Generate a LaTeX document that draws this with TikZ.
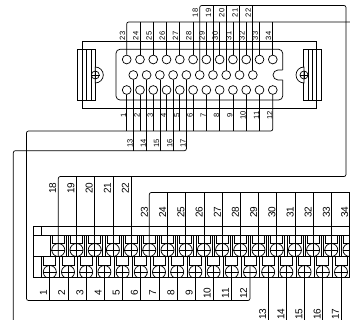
\documentclass[tikz,border=0pt]{standalone}
\usepackage{fontspec}
\setmainfont{Liberation Sans}
\usetikzlibrary{calc}
\tikzset{
  ln/.style={line width=0.7pt,line cap=butt},
  wire/.style={line width=0.7pt},
  bus/.style={line width=0.7pt,rounded corners=2pt},
  pin/.style={circle,draw,line width=0.7pt,minimum size=8.8pt,inner sep=0pt},
  screw/.style={circle,draw,line width=0.7pt,minimum size=13pt,inner sep=0pt},
  clampscrew/.style={circle,draw,line width=0.7pt,minimum size=8pt,inner sep=0pt},
  smalllab/.style={rotate=90,font=\fontsize{7.6}{8}\selectfont,inner sep=0pt},
  biglab/.style={rotate=90,font=\fontsize{10}{11}\selectfont,inner sep=0pt},
}
\begin{document}
\begin{tikzpicture}[x=1pt,y=-1pt]
\clip (0,0) rectangle (350,320);
\fill[white] (0,0) rectangle (350,320);
% flange
\draw[ln] (82.3,49.3) -- (82.3,41.3) -- (316.7,41.3) -- (316.7,49.3);
\draw[ln] (82.3,100) -- (82.3,108.3) -- (316.7,108.3) -- (316.7,100);
% left clamp
\draw[ln] (77.3,49.3) rectangle (95.3,100);
\foreach \x in {82.3,86.7,91} \draw[ln] (\x,49.3) -- (\x,100);
\draw[ln,fill=white] (95.3,67) arc[start angle=-90,end angle=90,radius=8] -- cycle;
\node[clampscrew] (scl) at (95.3,75) {};
\draw[ln] (scl.west) -- (scl.east) (scl.north) -- (scl.south);
% right clamp
\draw[ln] (303.3,49.3) rectangle (321.7,100);
\foreach \x in {308.3,312.7,316.7} \draw[ln] (\x,49.3) -- (\x,100);
\draw[ln,fill=white] (304,67) arc[start angle=270,end angle=90,radius=8] -- cycle;
\node[clampscrew] (scr) at (304,75) {};
\draw[ln] (scr.west) -- (scr.east) (scr.north) -- (scr.south);
% connector body
\draw[ln,rounded corners=4pt] (282.7,70) -- (282.7,49.3) -- (116,49.3) -- (116,100) -- (282.7,100) -- (282.7,80);
\draw[ln] (282.7,70) -- (278,70) arc[start angle=270,end angle=90,radius=5] -- (282.7,80);
% pins
\foreach \n [count=\i from 0] in {23,...,34} {
  \node[pin] (p\n) at ({126.7+13.28*\i},59.5) {};
  \node[smalllab] (lp\n) at ({122.4+13.28*\i},36) {\n};
}
\foreach \n [count=\i from 0] in {1,...,12} {
  \node[pin] (p\n) at ({126.7+13.28*\i},90) {};
  \node[smalllab] (lp\n) at ({123.6+13.28*\i},115.7) {\n};
}
\foreach \n [count=\i from 0] in {13,...,22} {
  \node[pin] (p\n) at ({133.3+13.28*\i},75) {};
}
\foreach \n [count=\i from 0] in {13,...,17}
  \node[smalllab] (lp\n) at ({130+13.28*\i},143.3) {\n};
\foreach \n [count=\i from 0] in {18,...,22}
  \node[smalllab] (lp\n) at ({195.2+13.28*\i},13) {\n};
% terminal block
\draw[ln] (33,277) -- (33,226) -- (355,226);
\draw[ln] (33,277) -- (355,277);
\draw[ln] (33,235.3) -- (355,235.3);
\draw[ln] (41.3,226) -- (41.3,235.3);
\draw[ln] (33,256.3) -- (355,256.3);
% terminal cells, top row
\foreach \n [count=\i from 0] in {18,...,34} {
  \pgfmathsetmacro{\xc}{58.3+18.2*\i}
  \draw[ln] (\xc-8,235.3) -- (\xc-8,256.3) (\xc+8,235.3) -- (\xc+8,256.3);
  \draw[ln] (\xc-6,235.3) -- (\xc-6,243.7) -- (\xc+6,243.7) -- (\xc+6,235.3);
  \node[screw] (t\n) at (\xc,250) {};
  \draw[ln] (t\n.west) -- (t\n.east);
}
% terminal cells, bottom row
\foreach \n [count=\i from 0] in {1,...,17} {
  \pgfmathsetmacro{\xc}{49.8+18.2*\i}
  \draw[ln] (\xc-8.4,256.3) -- (\xc-8.4,277);
  \draw[ln] (\xc-6,256.3) -- (\xc-6,265) -- (\xc+6,265) -- (\xc+6,256.3);
  \begin{scope}
    \clip (\xc-10,256) rectangle (\xc+10,277);
    \node[screw] (b\n) at (\xc,272) {};
    \draw[ln] (b\n.west) -- (b\n.east);
  \end{scope}
}
\draw[ln] (349.2,256.3) -- (349.2,277);
% terminal labels
\foreach \n [count=\i from 0] in {1,...,12}
  \node[biglab] (lb\n) at ({43.5+18.2*\i},293) {\n};
\foreach \n [count=\i from 0] in {13,...,17}
  \node[biglab] (lb\n) at ({262.7+18.2*\i},314) {\n};
\foreach \n [count=\i from 0] in {18,...,22}
  \node[biglab] (lt\n) at ({52.7+18.2*\i},188) {\n};
\foreach \n [count=\i from 0] in {23,...,34}
  \node[biglab] (lt\n) at ({144.5+18.2*\i},212) {\n};
% free ends of the buses
\coordinate (baa) at (350,22);
\coordinate (bab) at (350,192.5);
\coordinate (bca) at (346,5.5);
\coordinate (bcb) at (346,176.5);
\coordinate (bda) at (26.5,131);
\coordinate (bdb) at (26.5,300.5);
\coordinate (bea) at (13.3,150.7);
\coordinate (beb) at (13.3,320);
% bus 23-34
\draw[bus] (p23.north) |- (baa);
\foreach \n in {24,...,34} \draw[wire] (p\n.north) -- (p\n.north |- baa);
\draw[bus] (t23.south) -- (t23.south |- bab) -- (bab);
\foreach \n in {24,...,34} \draw[wire] (t\n.south) -- (t\n.south |- bab);
% bus 18-22
\draw[bus] (p18.north) |- (bca) -- (bcb) -| (t18.south);
\foreach \n in {19,...,22} {
  \draw[wire] (p\n.north) -- (p\n.north |- bca);
  \draw[wire] (t\n.south) -- (t\n.south |- bcb);
}
% bus 1-12
\draw[bus] (p12.south) |- (bda) -- (bdb) -| (b12.north);
\foreach \n in {1,...,11} {
  \draw[wire] (p\n.south) -- (p\n.south |- bda);
  \draw[wire] (b\n.north) -- (b\n.north |- bdb);
}
% bus 13-17
\draw[bus] (p17.south) |- (bea) -- (beb);
\foreach \n in {13,...,16} \draw[wire] (p\n.south) -- (p\n.south |- bea);
\foreach \n in {13,...,17} \draw[wire] (b\n.north) -- (b\n.north |- beb);
\end{tikzpicture}
\end{document}
